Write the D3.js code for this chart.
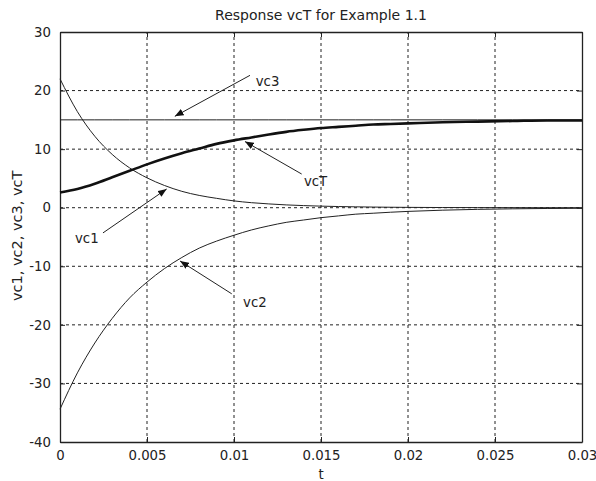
<html>
<head>
    <meta charset="utf-8">
    <script src="https://cdn.jsdelivr.net/npm/d3@7"></script>
    <style>
        body { margin: 0; background: #fff; }
        text { font-family: "DejaVu Sans", sans-serif; fill: #222; }
        .grid line { stroke: #222; stroke-width: 1px; stroke-dasharray: 3 3; }
        path.thin { fill: none; stroke: #222; stroke-width: 1px; }
        path.thick { fill: none; stroke: #111; stroke-width: 2.6px; }
        line.ann { stroke: #222; stroke-width: 1px; }
    </style>
</head>
<body>
<script>

    // time samples (s) and the values
    var tVals = [0, 0.001, 0.002, 0.003, 0.004, 0.005, 0.006, 0.007, 0.008, 0.009, 0.010,
        0.011, 0.012, 0.013, 0.014, 0.015, 0.016, 0.017, 0.018, 0.019, 0.020,
        0.022, 0.024, 0.026, 0.028, 0.030];
    var vc1 = [22, 16.4, 12.2, 9.1, 6.8, 5.1, 3.8, 2.8, 2.1, 1.6, 1.16,
        0.86, 0.65, 0.48, 0.36, 0.27, 0.2, 0.15, 0.11, 0.08, 0.06,
        0.03, 0.02, 0.01, 0.005, 0];
    var vc2 = [-34.4, -28.2, -23.1, -18.9, -15.4, -12.7, -10.4, -8.5, -6.9, -5.7, -4.7,
        -3.8, -3.1, -2.5, -2.1, -1.7, -1.4, -1.1, -0.94, -0.77, -0.63,
        -0.42, -0.28, -0.19, -0.13, -0.09];
    var vc3 = [15, 15, 15, 15, 15, 15, 15, 15, 15, 15, 15,
        15, 15, 15, 15, 15, 15, 15, 15, 15, 15,
        15, 15, 15, 15, 15];
    var vcT = [2.6, 3.2, 4.1, 5.2, 6.3, 7.4, 8.4, 9.3, 10.1, 10.9, 11.5,
        12.0, 12.5, 12.95, 13.3, 13.6, 13.8, 14.0, 14.2, 14.3, 14.4,
        14.6, 14.7, 14.8, 14.9, 14.9];

    var xTicks = [0, 0.005, 0.01, 0.015, 0.02, 0.025, 0.03];
    var xTickLabels = ["0", "0.005", "0.01", "0.015", "0.02", "0.025", "0.03"];
    var yTicks = [-40, -30, -20, -10, 0, 10, 20, 30];

    // annotation labels: text, arrow tail (t, v), arrow head (t, v), text start (t, v)
    var annNames = ["vc3", "vcT", "vc1", "vc2"];
    var annTail = [[0.01092, 22.6], [0.01389, 5.75], [0.00247, -4.3], [0.00987, -14.7]];
    var annHead = [[0.0066, 15.6], [0.01063, 11.3], [0.00613, 3.2], [0.0069, -9.1]];
    var annText = [[0.01125, 21.6], [0.01402, 4.5], [0.00086, -5.3], [0.01052, -16.2]];

    var width = 596,
        height = 481;
    var margin = {left: 60, right: 14, top: 32, bottom: 39};

    var x = d3.scaleLinear().domain([0, 0.03]).range([margin.left, width - margin.right]);
    var y = d3.scaleLinear().domain([-40, 30]).range([height - margin.bottom, margin.top]);

    var svg = d3.select("body").append("svg")
        .attr("width", width)
        .attr("height", height);

    svg.append("defs").append("marker")
        .attr("id", "head")
        .attr("viewBox", "0 -4 10 8")
        .attr("refX", 10)
        .attr("refY", 0)
        .attr("markerWidth", 9)
        .attr("markerHeight", 7)
        .attr("markerUnits", "userSpaceOnUse")
        .attr("orient", "auto")
        .append("path")
        .attr("d", "M0,-4L10,0L0,4Z")
        .attr("fill", "#111");

    // grid
    var grid = svg.append("g").attr("class", "grid");
    grid.selectAll("line.gx")
        .data(xTicks.slice(1, -1))
        .enter().append("line")
        .attr("x1", function (d) { return x(d); })
        .attr("x2", function (d) { return x(d); })
        .attr("y1", y(-40))
        .attr("y2", y(30));
    grid.selectAll("line.gy")
        .data(yTicks.slice(1, -1))
        .enter().append("line")
        .attr("class", "gy")
        .attr("x1", x(0))
        .attr("x2", x(0.03))
        .attr("y1", function (d) { return y(d); })
        .attr("y2", function (d) { return y(d); });

    // axes (MATLAB style box with inward ticks)
    var xAxis = svg.append("g")
        .attr("transform", "translate(0," + y(-40) + ")")
        .call(d3.axisBottom(x).tickValues(xTicks)
            .tickFormat(function (d, i) { return xTickLabels[i]; })
            .tickSizeInner(-5).tickSizeOuter(0).tickPadding(9));
    var xTop = svg.append("g")
        .attr("transform", "translate(0," + y(30) + ")")
        .call(d3.axisTop(x).tickValues(xTicks).tickFormat("").tickSizeInner(-5).tickSizeOuter(0));
    var yAxis = svg.append("g")
        .attr("transform", "translate(" + x(0) + ",0)")
        .call(d3.axisLeft(y).tickValues(yTicks).tickFormat(function (d) { return String(d); })
            .tickSizeInner(-5).tickSizeOuter(0).tickPadding(9));
    var yRight = svg.append("g")
        .attr("transform", "translate(" + x(0.03) + ",0)")
        .call(d3.axisRight(y).tickValues(yTicks).tickFormat("").tickSizeInner(-5).tickSizeOuter(0));

    [xAxis, xTop, yAxis, yRight].forEach(function (a) {
        a.select(".domain").attr("stroke", "#222").attr("stroke-width", 1.3);
        a.selectAll(".tick line").attr("stroke", "#222");
        a.selectAll("text").style("font-size", "13.3px").attr("fill", "#222")
            .style("font-family", "'DejaVu Sans', sans-serif");
    });

    // curves
    var line = d3.line().curve(d3.curveMonotoneX)
        .x(function (d) { return x(d[0]); })
        .y(function (d) { return y(d[1]); });

    function pairs(vals) {
        return tVals.map(function (t, i) { return [t, vals[i]]; });
    }

    svg.append("path").attr("class", "thin").attr("d", line(pairs(vc3)));
    svg.append("path").attr("class", "thin").attr("d", line(pairs(vc1)));
    svg.append("path").attr("class", "thin").attr("d", line(pairs(vc2)));
    svg.append("path").attr("class", "thick").attr("d", line(pairs(vcT)));

    // annotations
    annNames.forEach(function (name, i) {
        svg.append("line")
            .attr("class", "ann")
            .attr("x1", x(annTail[i][0]))
            .attr("y1", y(annTail[i][1]))
            .attr("x2", x(annHead[i][0]))
            .attr("y2", y(annHead[i][1]))
            .attr("marker-end", "url(#head)");
        svg.append("text")
            .attr("x", x(annText[i][0]))
            .attr("y", y(annText[i][1]))
            .attr("dy", "0.35em")
            .style("font-size", "13.3px")
            .text(name);
    });

    // titles
    svg.append("text")
        .attr("x", (x(0) + x(0.03)) / 2)
        .attr("y", 20)
        .attr("text-anchor", "middle")
        .style("font-size", "14px")
        .text("Response vcT for Example 1.1");

    svg.append("text")
        .attr("x", (x(0) + x(0.03)) / 2)
        .attr("y", 479)
        .attr("text-anchor", "middle")
        .style("font-size", "13.3px")
        .text("t");

    svg.append("text")
        .attr("transform", "translate(22," + y(-4.8) + ") rotate(-90)")
        .attr("text-anchor", "middle")
        .style("font-size", "14.5px")
        .text("vc1, vc2, vc3, vcT");

</script>
</body>
</html>
